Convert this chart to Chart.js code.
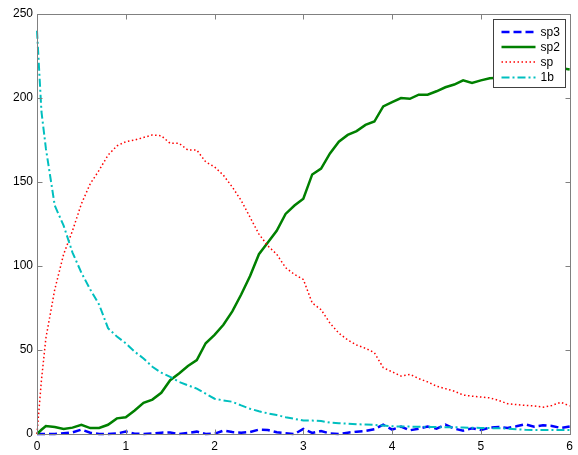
<!DOCTYPE html>
<html><head><meta charset="utf-8">
<script src="https://cdn.jsdelivr.net/npm/chart.js@4.4.1/dist/chart.umd.min.js"></script>
<style>html,body{margin:0;padding:0;background:#fff}</style>
</head><body>
<canvas id="c" width="578" height="455"></canvas>
<script>
const xs = [0,0.05,0.1,0.2,0.3,0.4,0.5,0.6,0.7,0.8,0.9,1.0,1.1,1.2,1.3,1.4,1.5,1.6,1.7,1.8,1.9,2.0,2.1,2.2,2.3,2.4,2.5,2.6,2.7,2.8,2.9,3.0,3.1,3.2,3.3,3.4,3.5,3.6,3.7,3.8,3.9,4.0,4.1,4.2,4.3,4.4,4.5,4.6,4.7,4.8,4.9,5.0,5.1,5.2,5.3,5.4,5.5,5.6,5.7,5.8,5.9,6.0];
const sp3 = [0,0,0,0,0.5,1,2.6,0.8,0,0,0.3,1.4,0.2,0,0.3,0.8,0.9,0,0.6,1.4,0,0.2,2.0,1.2,0.8,1.2,2.6,2.4,1.0,0.5,0,3.0,0.6,1.8,0.3,0,0.8,1.4,1.8,2.8,5.5,2.6,4.4,2.2,3.2,4.4,3.2,5.6,3.2,2.0,3.4,2.4,3.8,4.2,3.6,4.6,5.8,4.4,5.2,4.8,3.6,4.4];
const sp2 = [0,2.5,4.8,4.2,3.0,3.8,5.5,3.5,3.6,5.5,9.3,10,14,18.5,20.5,24.5,32,36,40.5,44,54,59,65,73,83,94,107,114,121,131,136,140,154.5,158,167,174,178,180.3,184,186,195,197.5,200,199.5,202,202,204,206.4,208,210.5,209,210.5,211.7,212,212.5,213,214,214.5,215.5,216.5,217.8,217];
const sp = [0,32,57,86,107,121,137,149,157,166,171.5,174,175,176.5,178,177.5,173,173,169,169,162,159,154,147,139,129,119,112,107,99,95,92,78,74,66,60,56,53,51,48.4,39.5,37,34.5,35.5,33,31,28.5,27,25.5,23.2,22.5,22,21.5,20,18,17.5,17,16.7,16,17,18.9,16.7];
const b1 = [240,192,170,136,124,108,96,86,77,63,58,54,49,45,40,36.5,34,31,29,27,24,21,20,19.2,17,15,13.5,12.3,11.3,10,9,8,8,7.7,6.8,6.4,6.2,5.8,5.6,5.4,5,4.6,4.4,4.4,4.3,4.2,4.1,4.0,4.0,3.9,3.7,3.6,3.5,3.4,3.2,2.8,2.5,2.4,2.4,2.4,2.4,2.4];
const seriesNames = ['sp3','sp2','sp','1b'];
const xTicks = [0,1,2,3,4,5,6];
const yTicks = [0,50,100,150,200,250];

const FONT = '"Liberation Sans", Arial, sans-serif';
const styles = [
  {color:'#0000ff', width:2.5, dash:[8,4]},
  {color:'#008000', width:2.5, dash:[]},
  {color:'#ff0000', width:1.5, dash:[1.5,2.5]},
  {color:'#00bfbf', width:2, dash:[8,3,2,3]}
];
const allSeries = [sp3, sp2, sp, b1];

const datasets = allSeries.map((ys,i)=>({
  label: seriesNames[i],
  data: xs.map((x,j)=>({x:x, y:ys[j]})),
  borderColor: styles[i].color,
  borderWidth: styles[i].width,
  borderDash: styles[i].dash,
  pointRadius: 0,
  tension: 0,
  fill: false,
  clip: 4,
  order: 4 - i
}));

const framePlugin = {
  id: 'frame',
  afterDatasetsDraw(chart){
    const ctx = chart.ctx, ca = chart.chartArea;
    const xs_ = chart.scales.x, ys_ = chart.scales.y;
    ctx.save();
    ctx.strokeStyle = '#808080';
    ctx.lineWidth = 1;
    ctx.setLineDash([]);
    const L = Math.round(ca.left)+0.5, R = Math.round(ca.right)+0.5, T = Math.round(ca.top)+0.5, B = Math.round(ca.bottom)+0.5;
    ctx.strokeRect(L, T, R-L, B-T);
    const tl = 5;
    ctx.beginPath();
    xTicks.forEach(v=>{
      const p = Math.round(xs_.getPixelForValue(v))+0.5;
      ctx.moveTo(p,B); ctx.lineTo(p,B-tl);
      ctx.moveTo(p,T); ctx.lineTo(p,T+tl);
    });
    yTicks.forEach(v=>{
      const p = Math.round(ys_.getPixelForValue(v))+0.5;
      ctx.moveTo(L,p); ctx.lineTo(L+tl,p);
      ctx.moveTo(R,p); ctx.lineTo(R-tl,p);
    });
    ctx.stroke();
    ctx.restore();
  },
  afterDraw(chart){
    const ctx = chart.ctx, ca = chart.chartArea;
    ctx.save();
    const bx = Math.round(ca.right) - 76.5, by = Math.round(ca.top) + 5.5, bw = 72, bh = 68;
    ctx.fillStyle = '#fff';
    ctx.fillRect(bx, by, bw, bh);
    ctx.strokeStyle = '#404040';
    ctx.lineWidth = 1;
    ctx.setLineDash([]);
    ctx.strokeRect(bx, by, bw, bh);
    const rowY = [by+12.5, by+27.5, by+42.5, by+58];
    ctx.font = '12px ' + FONT;
    ctx.textBaseline = 'middle';
    ctx.textAlign = 'left';
    seriesNames.forEach((n,i)=>{
      const s = styles[i];
      ctx.beginPath();
      ctx.strokeStyle = s.color;
      ctx.lineWidth = s.width;
      ctx.setLineDash(s.dash);
      ctx.moveTo(bx+8, rowY[i]);
      ctx.lineTo(bx+42, rowY[i]);
      ctx.stroke();
      ctx.fillStyle = '#000';
      ctx.fillText(n, bx+47, rowY[i]+0.5);
    });
    ctx.restore();
  }
};

new Chart(document.getElementById('c'), {
  type: 'line',
  data: { datasets },
  options: {
    responsive: false,
    animation: false,
    devicePixelRatio: 1,
    layout: { padding: { top: 14, right: 7, left: 0, bottom: 0 } },
    plugins: { legend: { display: false }, tooltip: { enabled: false } },
    scales: {
      x: {
        type: 'linear', min: 0, max: 6,
        afterBuildTicks: s => { s.ticks = xTicks.map(v=>({value:v})); },
        afterFit: s => { s.height = 21; },
        grid: { display: false, drawTicks: false }, border: { display: false },
        ticks: { color:'#000', font:{ family: FONT, size: 12 }, padding: 5, maxRotation: 0 }
      },
      y: {
        type: 'linear', min: 0, max: 250,
        afterBuildTicks: s => { s.ticks = yTicks.map(v=>({value:v})); },
        afterFit: s => { s.width = 37; },
        grid: { display: false, drawTicks: false }, border: { display: false },
        ticks: { color:'#000', font:{ family: FONT, size: 12 }, padding: 4 }
      }
    }
  },
  plugins: [framePlugin]
});
</script>
</body></html>
